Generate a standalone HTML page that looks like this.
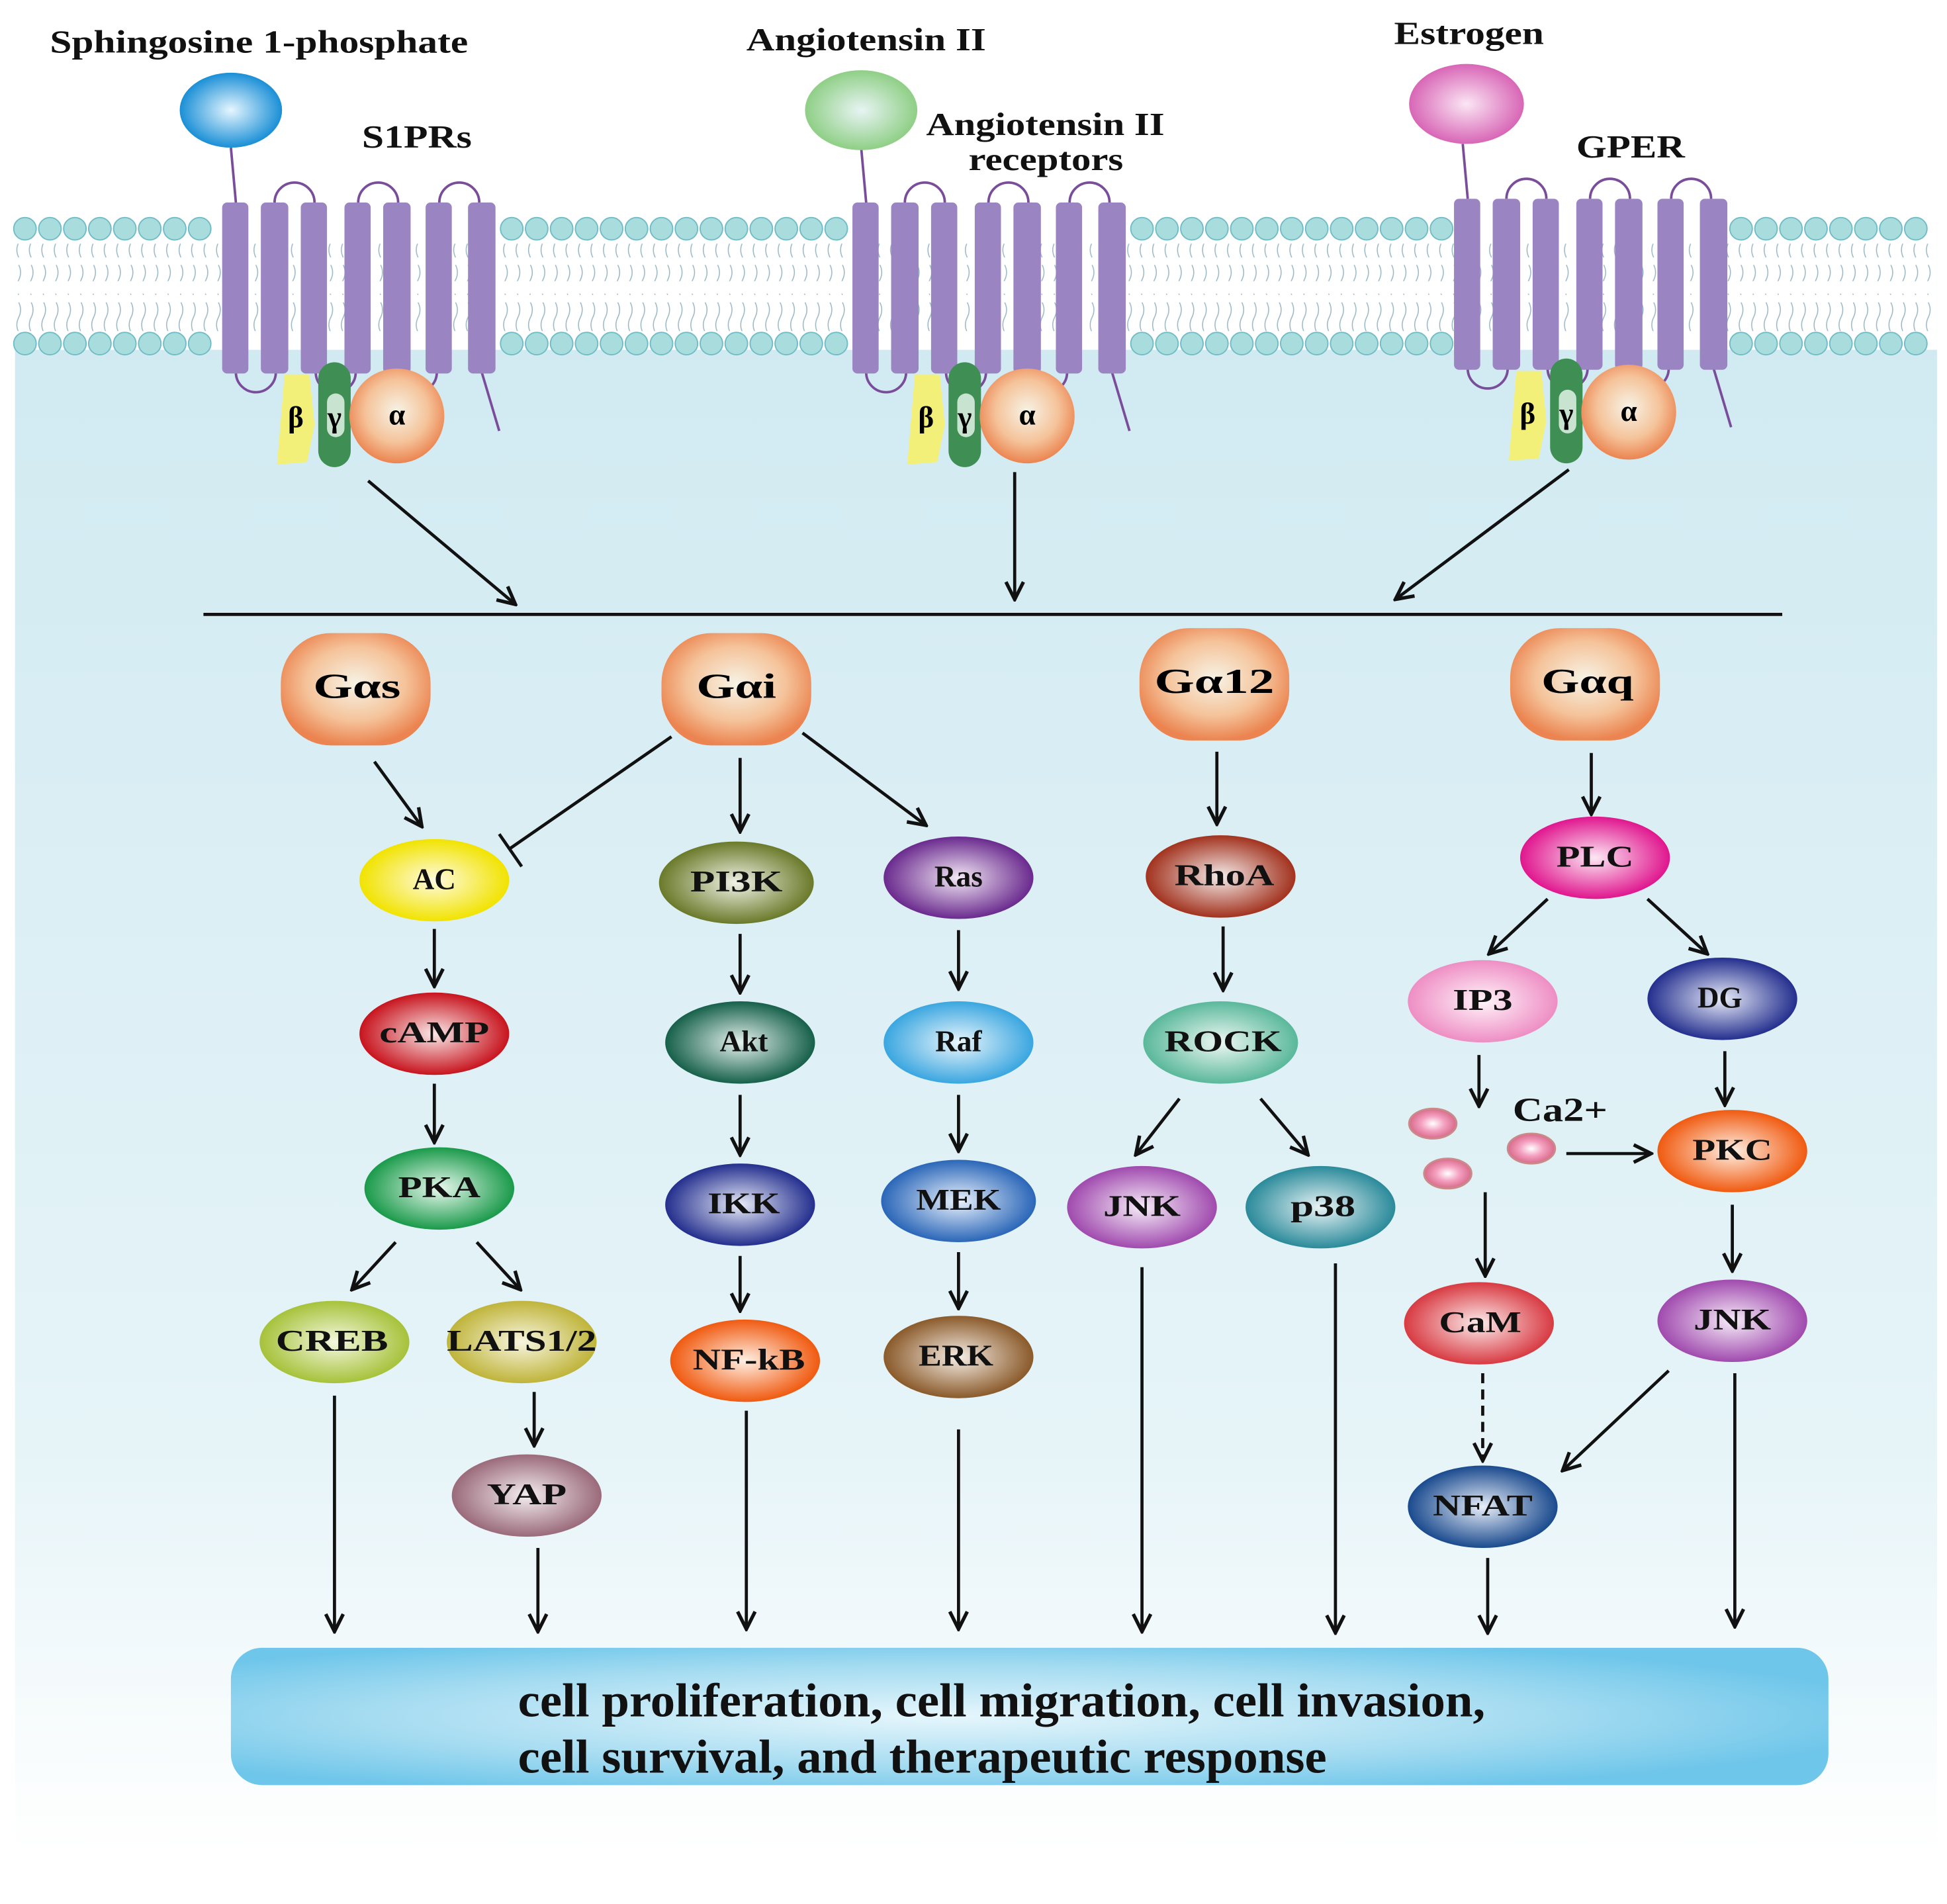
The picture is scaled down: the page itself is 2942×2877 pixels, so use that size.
<!DOCTYPE html>
<html><head><meta charset="utf-8"><style>html,body{margin:0;padding:0;background:#fff}svg{display:block}</style></head><body>
<svg width="2942" height="2877" viewBox="0 0 1560 1525" xmlns="http://www.w3.org/2000/svg" font-family="Liberation Serif, serif" font-weight="bold">
<defs>
<linearGradient id="bg" x1="0" y1="0" x2="0" y2="1"><stop offset="0" stop-color="#cfe9f1"/><stop offset="0.75" stop-color="#e6f4f8"/><stop offset="1" stop-color="#ffffff"/></linearGradient>
<radialGradient id="box" cx="0.45" cy="0.5" r="0.6"><stop offset="0" stop-color="#e6f6fc"/><stop offset="0.6" stop-color="#a6dcf1"/><stop offset="1" stop-color="#6ec6ea"/></radialGradient>
<radialGradient id="ga" cx="0.5" cy="0.45" r="0.55"><stop offset="0" stop-color="#f6f3e6"/><stop offset="0.6" stop-color="#f5c39a"/><stop offset="1" stop-color="#eb8450"/></radialGradient>
<marker id="ar" viewBox="0 0 10 10" refX="9" refY="5" markerWidth="7" markerHeight="7" orient="auto"><path d="M1,1 L9,5 L1,9" fill="none" stroke="#111" stroke-width="1.6"/></marker>
<pattern id="tails" width="10" height="30" patternUnits="userSpaceOnUse"><path d="M5,2 q3,6 0,12 q-3,6 0,12" fill="none" stroke="#9ab8c4" stroke-width="0.8"/></pattern>
</defs>
<rect width="1560" height="1525" fill="#fff"/>
<rect x="12" y="185" width="1540" height="1300" fill="url(#bg)"/>
<rect x="12" y="180" width="1540" height="100" fill="#fff"/>
<rect x="12" y="195" width="1540" height="30" fill="url(#tails)"/>
<rect x="12" y="235" width="1540" height="30" fill="url(#tails)"/>
<g fill="#a9dcdc" stroke="#6fbcc6" stroke-width="1">
<circle cx="20" cy="183" r="9"/><circle cx="40" cy="183" r="9"/><circle cx="60" cy="183" r="9"/><circle cx="80" cy="183" r="9"/><circle cx="100" cy="183" r="9"/><circle cx="120" cy="183" r="9"/><circle cx="140" cy="183" r="9"/><circle cx="160" cy="183" r="9"/>
<circle cx="410" cy="183" r="9"/><circle cx="430" cy="183" r="9"/><circle cx="450" cy="183" r="9"/><circle cx="470" cy="183" r="9"/><circle cx="490" cy="183" r="9"/><circle cx="510" cy="183" r="9"/><circle cx="530" cy="183" r="9"/><circle cx="550" cy="183" r="9"/><circle cx="570" cy="183" r="9"/><circle cx="590" cy="183" r="9"/><circle cx="610" cy="183" r="9"/><circle cx="630" cy="183" r="9"/><circle cx="650" cy="183" r="9"/><circle cx="670" cy="183" r="9"/>
<circle cx="915" cy="183" r="9"/><circle cx="935" cy="183" r="9"/><circle cx="955" cy="183" r="9"/><circle cx="975" cy="183" r="9"/><circle cx="995" cy="183" r="9"/><circle cx="1015" cy="183" r="9"/><circle cx="1035" cy="183" r="9"/><circle cx="1055" cy="183" r="9"/><circle cx="1075" cy="183" r="9"/><circle cx="1095" cy="183" r="9"/><circle cx="1115" cy="183" r="9"/><circle cx="1135" cy="183" r="9"/><circle cx="1155" cy="183" r="9"/>
<circle cx="1395" cy="183" r="9"/><circle cx="1415" cy="183" r="9"/><circle cx="1435" cy="183" r="9"/><circle cx="1455" cy="183" r="9"/><circle cx="1475" cy="183" r="9"/><circle cx="1495" cy="183" r="9"/><circle cx="1515" cy="183" r="9"/><circle cx="1535" cy="183" r="9"/>
<circle cx="20" cy="275" r="9"/><circle cx="40" cy="275" r="9"/><circle cx="60" cy="275" r="9"/><circle cx="80" cy="275" r="9"/><circle cx="100" cy="275" r="9"/><circle cx="120" cy="275" r="9"/><circle cx="140" cy="275" r="9"/><circle cx="160" cy="275" r="9"/>
<circle cx="410" cy="275" r="9"/><circle cx="430" cy="275" r="9"/><circle cx="450" cy="275" r="9"/><circle cx="470" cy="275" r="9"/><circle cx="490" cy="275" r="9"/><circle cx="510" cy="275" r="9"/><circle cx="530" cy="275" r="9"/><circle cx="550" cy="275" r="9"/><circle cx="570" cy="275" r="9"/><circle cx="590" cy="275" r="9"/><circle cx="610" cy="275" r="9"/><circle cx="630" cy="275" r="9"/><circle cx="650" cy="275" r="9"/><circle cx="670" cy="275" r="9"/>
<circle cx="915" cy="275" r="9"/><circle cx="935" cy="275" r="9"/><circle cx="955" cy="275" r="9"/><circle cx="975" cy="275" r="9"/><circle cx="995" cy="275" r="9"/><circle cx="1015" cy="275" r="9"/><circle cx="1035" cy="275" r="9"/><circle cx="1055" cy="275" r="9"/><circle cx="1075" cy="275" r="9"/><circle cx="1095" cy="275" r="9"/><circle cx="1115" cy="275" r="9"/><circle cx="1135" cy="275" r="9"/><circle cx="1155" cy="275" r="9"/>
<circle cx="1395" cy="275" r="9"/><circle cx="1415" cy="275" r="9"/><circle cx="1435" cy="275" r="9"/><circle cx="1455" cy="275" r="9"/><circle cx="1475" cy="275" r="9"/><circle cx="1495" cy="275" r="9"/><circle cx="1515" cy="275" r="9"/><circle cx="1535" cy="275" r="9"/>
</g>

<g id="rec">
<path d="M189,162 L185,118" stroke="#7a4d9a" stroke-width="2" fill="none"/>
<g fill="none" stroke="#7a4d9a" stroke-width="2">
<path d="M220,162 a16,16 0 0 1 32,0"/><path d="M287,162 a16,16 0 0 1 32,0"/><path d="M352,162 a16,16 0 0 1 32,0"/>
<path d="M189,298 a16,16 0 0 0 32,0"/><path d="M253,298 a16,16 0 0 0 32,0"/><path d="M318,298 a16,16 0 0 0 32,0"/>
<path d="M386,298 L400,345"/></g>
<g fill="#9b84c2"><rect x="178" y="162" width="21" height="137" rx="4"/><rect x="209" y="162" width="22" height="137" rx="4"/><rect x="241" y="162" width="21" height="137" rx="4"/><rect x="276" y="162" width="21" height="137" rx="4"/><rect x="307" y="162" width="22" height="137" rx="4"/><rect x="341" y="162" width="21" height="137" rx="4"/><rect x="375" y="162" width="22" height="137" rx="4"/></g>
<path d="M228,300 L248,300 L252,340 L246,370 L222,372 Z" fill="#f3f07a"/>
<rect x="255" y="290" width="26" height="84" rx="13" fill="#3f8f55"/>
<rect x="262" y="315" width="14" height="35" rx="7" fill="#c8e4d0"/>
<circle cx="318" cy="333" r="38" fill="url(#ga)"/>
<text x="237" y="342" font-size="24" text-anchor="middle">β</text>
<text x="268" y="342" font-size="24" text-anchor="middle">γ</text>
<text x="318" y="340" font-size="24" text-anchor="middle">α</text>
</g>
<use href="#rec" x="505"/>
<use href="#rec" x="987" y="-3"/>

<radialGradient id="lb" cx="0.5" cy="0.5" r="0.5"><stop offset="0" stop-color="#e6f6ff"/><stop offset="1" stop-color="#1a8fd6"/></radialGradient>
<radialGradient id="lg" cx="0.5" cy="0.5" r="0.5"><stop offset="0" stop-color="#e8f4f4"/><stop offset="1" stop-color="#8fcf86"/></radialGradient>
<radialGradient id="lp" cx="0.5" cy="0.5" r="0.5"><stop offset="0" stop-color="#fbe6f4"/><stop offset="1" stop-color="#d866b6"/></radialGradient>
<ellipse cx="185" cy="88" rx="41" ry="30" fill="url(#lb)"/>
<ellipse cx="690" cy="88" rx="45" ry="32" fill="url(#lg)"/>
<ellipse cx="1175" cy="83" rx="46" ry="32" fill="url(#lp)"/>

<g font-size="26" fill="#111" lengthAdjust="spacingAndGlyphs">
<text x="40" y="42" textLength="335" lengthAdjust="spacingAndGlyphs">Sphingosine 1-phosphate</text>
<text x="290" y="118" textLength="88" lengthAdjust="spacingAndGlyphs">S1PRs</text>
<text x="598" y="40" textLength="192" lengthAdjust="spacingAndGlyphs">Angiotensin II</text>
<text x="742" y="108" textLength="191" lengthAdjust="spacingAndGlyphs">Angiotensin II</text>
<text x="776" y="136" textLength="124" lengthAdjust="spacingAndGlyphs">receptors</text>
<text x="1117" y="35" textLength="120" lengthAdjust="spacingAndGlyphs">Estrogen</text>
<text x="1263" y="126" textLength="87" lengthAdjust="spacingAndGlyphs">GPER</text>
</g>

<g stroke="#111" stroke-width="2.5" fill="none">
<line x1="295" y1="385" x2="413" y2="484" marker-end="url(#ar)"/>
<line x1="813" y1="378" x2="813" y2="480" marker-end="url(#ar)"/>
<line x1="1257" y1="376" x2="1118" y2="480" marker-end="url(#ar)"/>
<line x1="163" y1="492" x2="1428" y2="492"/>
</g>

<g font-size="28" text-anchor="middle">
<rect x="225" y="507" width="120" height="90" rx="40" fill="url(#ga)"/><text x="286" y="559" textLength="70" lengthAdjust="spacingAndGlyphs">Gαs</text>
<rect x="530" y="507" width="120" height="90" rx="40" fill="url(#ga)"/><text x="590" y="559" textLength="64" lengthAdjust="spacingAndGlyphs">Gαi</text>
<rect x="913" y="503" width="120" height="90" rx="40" fill="url(#ga)"/><text x="973" y="555" textLength="96" lengthAdjust="spacingAndGlyphs">Gα12</text>
<rect x="1210" y="503" width="120" height="90" rx="40" fill="url(#ga)"/><text x="1272" y="555" textLength="74" lengthAdjust="spacingAndGlyphs">Gαq</text>
</g>

<defs>
<radialGradient id="cY" cx="0.5" cy="0.5" r="0.5"><stop offset="0" stop-color="#fffbe0"/><stop offset="1" stop-color="#f1e300"/></radialGradient>
<radialGradient id="cR" cx="0.5" cy="0.5" r="0.5"><stop offset="0" stop-color="#f8e8e8"/><stop offset="1" stop-color="#c8141e"/></radialGradient>
<radialGradient id="cG" cx="0.5" cy="0.5" r="0.5"><stop offset="0" stop-color="#e8f8ee"/><stop offset="1" stop-color="#1a9a4a"/></radialGradient>
<radialGradient id="cYG" cx="0.5" cy="0.5" r="0.5"><stop offset="0" stop-color="#f4f8e0"/><stop offset="1" stop-color="#a6c23a"/></radialGradient>
<radialGradient id="cOl" cx="0.5" cy="0.5" r="0.5"><stop offset="0" stop-color="#f8f6e0"/><stop offset="1" stop-color="#bfb43a"/></radialGradient>
<radialGradient id="cM" cx="0.5" cy="0.5" r="0.5"><stop offset="0" stop-color="#f4eef0"/><stop offset="1" stop-color="#9a6a7a"/></radialGradient>
<radialGradient id="cOG" cx="0.5" cy="0.5" r="0.5"><stop offset="0" stop-color="#f0f2e6"/><stop offset="1" stop-color="#6a7a2a"/></radialGradient>
<radialGradient id="cT" cx="0.5" cy="0.5" r="0.5"><stop offset="0" stop-color="#e6f2ee"/><stop offset="1" stop-color="#16604a"/></radialGradient>
<radialGradient id="cN" cx="0.5" cy="0.5" r="0.5"><stop offset="0" stop-color="#e8ecf8"/><stop offset="1" stop-color="#242f8e"/></radialGradient>
<radialGradient id="cO" cx="0.5" cy="0.5" r="0.5"><stop offset="0" stop-color="#fff0e4"/><stop offset="1" stop-color="#f05a10"/></radialGradient>
<radialGradient id="cP" cx="0.5" cy="0.5" r="0.5"><stop offset="0" stop-color="#f2e8f4"/><stop offset="1" stop-color="#6a2a8e"/></radialGradient>
<radialGradient id="cLB" cx="0.5" cy="0.5" r="0.5"><stop offset="0" stop-color="#eaf6fc"/><stop offset="1" stop-color="#3aa6e0"/></radialGradient>
<radialGradient id="cB" cx="0.5" cy="0.5" r="0.5"><stop offset="0" stop-color="#eaf2fc"/><stop offset="1" stop-color="#2a66b8"/></radialGradient>
<radialGradient id="cBr" cx="0.5" cy="0.5" r="0.5"><stop offset="0" stop-color="#f6eee6"/><stop offset="1" stop-color="#8a5a2a"/></radialGradient>
<radialGradient id="cRB" cx="0.5" cy="0.5" r="0.5"><stop offset="0" stop-color="#f4ecea"/><stop offset="1" stop-color="#a2321e"/></radialGradient>
<radialGradient id="cLT" cx="0.5" cy="0.5" r="0.5"><stop offset="0" stop-color="#eef8f4"/><stop offset="1" stop-color="#5ab89a"/></radialGradient>
<radialGradient id="cV" cx="0.5" cy="0.5" r="0.5"><stop offset="0" stop-color="#f6ecf8"/><stop offset="1" stop-color="#a04aae"/></radialGradient>
<radialGradient id="cTe" cx="0.5" cy="0.5" r="0.5"><stop offset="0" stop-color="#eaf4f6"/><stop offset="1" stop-color="#2a8a9a"/></radialGradient>
<radialGradient id="cMg" cx="0.5" cy="0.5" r="0.5"><stop offset="0" stop-color="#fce8f4"/><stop offset="1" stop-color="#e0168e"/></radialGradient>
<radialGradient id="cPk" cx="0.5" cy="0.5" r="0.5"><stop offset="0" stop-color="#fff4fa"/><stop offset="1" stop-color="#ee8ec4"/></radialGradient>
<radialGradient id="cRd" cx="0.5" cy="0.5" r="0.5"><stop offset="0" stop-color="#fcecec"/><stop offset="1" stop-color="#d83a42"/></radialGradient>
<radialGradient id="cNB" cx="0.5" cy="0.5" r="0.5"><stop offset="0" stop-color="#e8eef8"/><stop offset="1" stop-color="#1a4a8e"/></radialGradient>
<radialGradient id="cCa" cx="0.5" cy="0.5" r="0.5"><stop offset="0" stop-color="#fff"/><stop offset="0.5" stop-color="#f4a0c0"/><stop offset="1" stop-color="#d86a8a"/></radialGradient>
</defs>

<g font-size="24" text-anchor="middle" fill="#111">
<ellipse cx="348" cy="705" rx="60" ry="33" fill="url(#cY)"/><text x="348" y="712">AC</text>
<ellipse cx="348" cy="828" rx="60" ry="33" fill="url(#cR)"/><text x="348" y="835" textLength="88" lengthAdjust="spacingAndGlyphs">cAMP</text>
<ellipse cx="352" cy="952" rx="60" ry="33" fill="url(#cG)"/><text x="352" y="959" textLength="66" lengthAdjust="spacingAndGlyphs">PKA</text>
<ellipse cx="268" cy="1075" rx="60" ry="33" fill="url(#cYG)"/><text x="266" y="1082" textLength="90" lengthAdjust="spacingAndGlyphs">CREB</text>
<ellipse cx="418" cy="1075" rx="60" ry="33" fill="url(#cOl)"/><text x="418" y="1082" textLength="120" lengthAdjust="spacingAndGlyphs">LATS1/2</text>
<ellipse cx="422" cy="1198" rx="60" ry="33" fill="url(#cM)"/><text x="422" y="1205" textLength="64" lengthAdjust="spacingAndGlyphs">YAP</text>
<ellipse cx="590" cy="707" rx="62" ry="33" fill="url(#cOG)"/><text x="590" y="714" textLength="74" lengthAdjust="spacingAndGlyphs">PI3K</text>
<ellipse cx="593" cy="835" rx="60" ry="33" fill="url(#cT)"/><text x="596" y="842">Akt</text>
<ellipse cx="593" cy="965" rx="60" ry="33" fill="url(#cN)"/><text x="596" y="972" textLength="58" lengthAdjust="spacingAndGlyphs">IKK</text>
<ellipse cx="597" cy="1090" rx="60" ry="33" fill="url(#cO)"/><text x="600" y="1097" textLength="90" lengthAdjust="spacingAndGlyphs">NF-kB</text>
<ellipse cx="768" cy="703" rx="60" ry="33" fill="url(#cP)"/><text x="768" y="710">Ras</text>
<ellipse cx="768" cy="835" rx="60" ry="33" fill="url(#cLB)"/><text x="768" y="842">Raf</text>
<ellipse cx="768" cy="962" rx="62" ry="33" fill="url(#cB)"/><text x="768" y="969" textLength="68" lengthAdjust="spacingAndGlyphs">MEK</text>
<ellipse cx="768" cy="1087" rx="60" ry="33" fill="url(#cBr)"/><text x="766" y="1094" textLength="60" lengthAdjust="spacingAndGlyphs">ERK</text>
<ellipse cx="978" cy="702" rx="60" ry="33" fill="url(#cRB)"/><text x="981" y="709" textLength="80" lengthAdjust="spacingAndGlyphs">RhoA</text>
<ellipse cx="978" cy="835" rx="62" ry="33" fill="url(#cLT)"/><text x="980" y="842" textLength="94" lengthAdjust="spacingAndGlyphs">ROCK</text>
<ellipse cx="915" cy="967" rx="60" ry="33" fill="url(#cV)"/><text x="915" y="974" textLength="62" lengthAdjust="spacingAndGlyphs">JNK</text>
<ellipse cx="1058" cy="967" rx="60" ry="33" fill="url(#cTe)"/><text x="1060" y="974" textLength="52" lengthAdjust="spacingAndGlyphs">p38</text>
<ellipse cx="1278" cy="687" rx="60" ry="33" fill="url(#cMg)"/><text x="1278" y="694" textLength="62" lengthAdjust="spacingAndGlyphs">PLC</text>
<ellipse cx="1188" cy="802" rx="60" ry="33" fill="url(#cPk)"/><text x="1188" y="809" textLength="48" lengthAdjust="spacingAndGlyphs">IP3</text>
<ellipse cx="1380" cy="800" rx="60" ry="33" fill="url(#cN)"/><text x="1378" y="807">DG</text>
<ellipse cx="1388" cy="922" rx="60" ry="33" fill="url(#cO)"/><text x="1388" y="929" textLength="64" lengthAdjust="spacingAndGlyphs">PKC</text>
<ellipse cx="1185" cy="1060" rx="60" ry="33" fill="url(#cRd)"/><text x="1186" y="1067" textLength="66" lengthAdjust="spacingAndGlyphs">CaM</text>
<ellipse cx="1388" cy="1058" rx="60" ry="33" fill="url(#cV)"/><text x="1388" y="1065" textLength="62" lengthAdjust="spacingAndGlyphs">JNK</text>
<ellipse cx="1188" cy="1207" rx="60" ry="33" fill="url(#cNB)"/><text x="1188" y="1214" textLength="80" lengthAdjust="spacingAndGlyphs">NFAT</text>
<text x="1250" y="898" font-size="27" textLength="76" lengthAdjust="spacingAndGlyphs">Ca2+</text>
</g>
<g fill="url(#cCa)" stroke="#c98a8a" stroke-width="1.5">
<ellipse cx="1148" cy="900" rx="19" ry="12"/><ellipse cx="1160" cy="940" rx="19" ry="12"/><ellipse cx="1227" cy="920" rx="19" ry="12"/>
</g>

<g stroke="#111" stroke-width="2.5" fill="none" marker-end="url(#ar)">
<line x1="300" y1="610" x2="338" y2="662"/>
<line x1="348" y1="744" x2="348" y2="790"/>
<line x1="348" y1="868" x2="348" y2="915"/>
<line x1="317" y1="995" x2="282" y2="1033"/>
<line x1="382" y1="995" x2="417" y2="1033"/>
<line x1="428" y1="1115" x2="428" y2="1158"/>
<line x1="268" y1="1118" x2="268" y2="1307"/>
<line x1="431" y1="1240" x2="431" y2="1307"/>
<line x1="593" y1="607" x2="593" y2="666"/>
<line x1="593" y1="748" x2="593" y2="795"/>
<line x1="593" y1="877" x2="593" y2="925"/>
<line x1="593" y1="1006" x2="593" y2="1050"/>
<line x1="598" y1="1130" x2="598" y2="1305"/>
<line x1="643" y1="587" x2="742" y2="661"/>
<line x1="768" y1="745" x2="768" y2="792"/>
<line x1="768" y1="877" x2="768" y2="922"/>
<line x1="768" y1="1003" x2="768" y2="1048"/>
<line x1="768" y1="1145" x2="768" y2="1305"/>
<line x1="975" y1="602" x2="975" y2="660"/>
<line x1="980" y1="742" x2="980" y2="793"/>
<line x1="945" y1="880" x2="910" y2="925"/>
<line x1="1010" y1="880" x2="1048" y2="925"/>
<line x1="915" y1="1015" x2="915" y2="1307"/>
<line x1="1070" y1="1012" x2="1070" y2="1308"/>
<line x1="1275" y1="603" x2="1275" y2="652"/>
<line x1="1240" y1="720" x2="1193" y2="764"/>
<line x1="1320" y1="720" x2="1368" y2="764"/>
<line x1="1185" y1="845" x2="1185" y2="886"/>
<line x1="1382" y1="842" x2="1382" y2="885"/>
<line x1="1255" y1="924" x2="1323" y2="924"/>
<line x1="1190" y1="955" x2="1190" y2="1022"/>
<line x1="1388" y1="965" x2="1388" y2="1018"/>
<line x1="1337" y1="1098" x2="1252" y2="1178"/>
<line x1="1390" y1="1100" x2="1390" y2="1303"/>
<line x1="1192" y1="1248" x2="1192" y2="1308"/>
<line x1="1188" y1="1100" x2="1188" y2="1170" stroke-dasharray="8,5"/>
</g>
<g stroke="#111" stroke-width="2.5" fill="none">
<line x1="538" y1="590" x2="408" y2="680"/>
<line x1="400" y1="668" x2="418" y2="694"/>
</g>

<rect x="185" y="1320" width="1280" height="110" rx="25" fill="url(#box)"/>
<g font-size="38" fill="#111">
<text x="415" y="1375" textLength="775" lengthAdjust="spacingAndGlyphs">cell proliferation, cell migration, cell invasion,</text>
<text x="415" y="1420" textLength="648" lengthAdjust="spacingAndGlyphs">cell survival, and therapeutic response</text>
</g>
</svg>
</body></html>
